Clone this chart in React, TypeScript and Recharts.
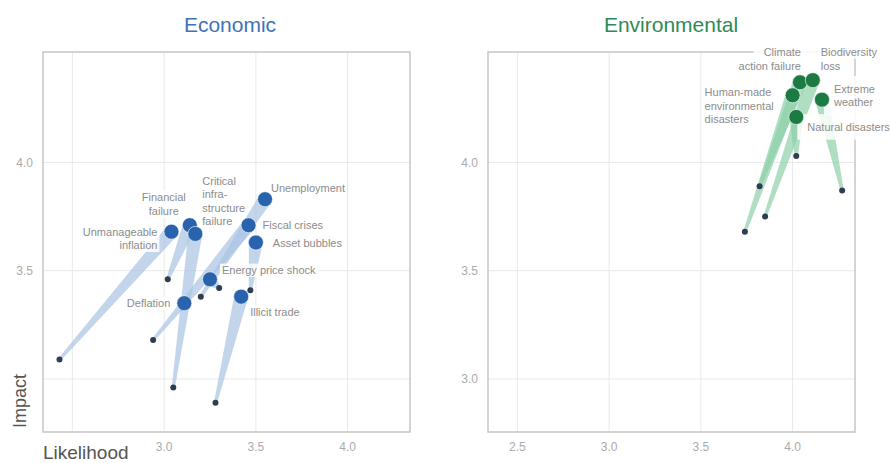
import { ScatterChart, Scatter, XAxis, YAxis, CartesianGrid, ReferenceArea } from 'recharts'

// Economic risks: current position and previous position
const econNames = [
  'Unmanageable inflation', 'Financial failure', 'Critical infrastructure failure', 'Unemployment',
  'Fiscal crises', 'Asset bubbles', 'Energy price shock', 'Deflation', 'Illicit trade',
]
const econLikelihood = [3.04, 3.14, 3.17, 3.55, 3.46, 3.5, 3.25, 3.11, 3.42]
const econImpact = [3.68, 3.71, 3.67, 3.83, 3.71, 3.63, 3.46, 3.35, 3.38]
const econPrevLikelihood = [2.43, 3.02, 3.05, 3.2, 2.94, 3.47, 3.3, 3.1, 3.28]
const econPrevImpact = [3.09, 3.46, 2.96, 3.38, 3.18, 3.41, 3.42, 3.33, 2.89]
const econLabels = [
  ['Unmanageable', 'inflation'], ['Financial', 'failure'], ['Critical', 'infra-', 'structure', 'failure'],
  ['Unemployment'], ['Fiscal crises'], ['Asset bubbles'], ['Energy price shock'], ['Deflation'], ['Illicit trade'],
]

// Environmental risks
const envNames = ['Climate action failure', 'Biodiversity loss', 'Human-made environmental disasters', 'Extreme weather', 'Natural disasters']
const envLikelihood = [4.04, 4.11, 4.0, 4.16, 4.02]
const envImpact = [4.37, 4.38, 4.31, 4.29, 4.21]
const envPrevLikelihood = [3.82, 3.85, 3.74, 4.27, 4.02]
const envPrevImpact = [3.89, 3.75, 3.68, 3.87, 4.03]
const envLabels = [['Climate', 'action failure'], ['Biodiversity', 'loss'], ['Human-made', 'environmental', 'disasters'], ['Extreme', 'weather'], ['Natural disasters']]

const xTicks = [2.5, 3.0, 3.5, 4.0]
const yTicks = [3.0, 3.5, 4.0]
const xDomain: [number, number] = [2.34, 4.34]
const yDomain: [number, number] = [2.755, 4.51]

// label placement relative to the dot: [dx, dy, anchor, padX, padY]
type Placement = [number, number, string, number, number]
const econPlacement: Placement[] = [
  [-14, 0, 'end', 2, 0], [-26, -28, 'middle', 2, 0], [7, -53, 'start', 2, 0], [6, -11, 'start', 2, 0],
  [14, 0, 'start', 2, 0], [17, 0, 'start', 2, 0], [12, -9, 'start', 2, 0], [-14, 0, 'end', 2, 0], [9, 15, 'start', 2, 0],
]
const envPlacement: Placement[] = [
  [1, -30, 'end', 10, 6], [8, -28, 'start', 10, 6], [-88, -3, 'start', 2, 0], [12, -11, 'start', 10, 6], [11, 10, 'start', 10, 6],
]

const FONT = '"Liberation Sans", Arial, sans-serif'

let measureCtx: CanvasRenderingContext2D | null = null
function textWidth(s: string, fs: number) {
  if (!measureCtx) measureCtx = document.createElement('canvas').getContext('2d')
  if (!measureCtx) return s.length * fs * 0.5
  measureCtx.font = `${fs}px ${FONT}`
  return measureCtx.measureText(s).width
}

function taper(color: string) {
  return (props: any) => {
    const pts = props.points
    if (!pts || pts.length < 2) return <g />
    const [a, b] = pts
    const dx = b.x - a.x
    const dy = b.y - a.y
    const len = Math.hypot(dx, dy) || 1
    const nx = -dy / len
    const ny = dx / len
    const w0 = 1.6
    const w1 = 7
    const d = `M${a.x + nx * w0},${a.y + ny * w0} L${b.x + nx * w1},${b.y + ny * w1} L${b.x - nx * w1},${b.y - ny * w1} L${a.x - nx * w0},${a.y - ny * w0} Z`
    return <path d={d} fill={color} fillOpacity={0.7} stroke="none" />
  }
}

function tickRenderer(hide: number[], axis: 'x' | 'y') {
  return (props: any) => {
    const v = props.payload.value
    if (hide.includes(v)) return <g />
    return (
      <text x={props.x} y={props.y} textAnchor={props.textAnchor} dy={axis === 'x' ? '0.71em' : '0.355em'}
        fill="#ababab" fontSize={12} fontFamily={FONT}>{v.toFixed(1)}</text>
    )
  }
}

interface PanelProps {
  dotColor: string
  tailColor: string
  names: string[]
  likelihood: number[]
  impact: number[]
  prevLikelihood: number[]
  prevImpact: number[]
  labels: string[][]
  placement: Placement[]
  width: number
  marginRight: number
  hideX: number[]
  hideY: number[]
}

function Panel(p: PanelProps) {
  const cur = p.names.map((name, i) => ({ name, x: p.likelihood[i], y: p.impact[i] }))
  const prev = p.names.map((name, i) => ({ name, x: p.prevLikelihood[i], y: p.prevImpact[i] }))

  const labelShape = (props: any) => {
    const name = props.payload?.name ?? props.name
    const i = p.names.indexOf(name)
    if (i < 0) return <g />
    const [dx, dy, anchor, padX, padY] = p.placement[i]
    const lines = p.labels[i]
    const fs = 11
    const lh = 13.5
    const x = props.cx + dx
    const y0 = props.cy + dy
    return (
      <g>
        {lines.map((l, k) => {
          const w = textWidth(l, fs)
          const left = anchor === 'end' ? x - w : anchor === 'middle' ? x - w / 2 : x
          const top = y0 + k * lh - lh / 2 - (k === 0 ? padY : 0)
          const h = lh + (k === 0 ? padY : 0) + (k === lines.length - 1 ? padY : 0)
          return <rect key={k} x={left - padX} y={top} width={w + padX * 2} height={h} fill="#fff" fillOpacity={0.85} />
        })}
        {lines.map((l, k) => (
          <text key={k} x={x} y={y0 + k * lh} textAnchor={anchor as any} dominantBaseline="central"
            fontSize={fs} fill="#8c8c8c" fontFamily={FONT}>{l}</text>
        ))}
      </g>
    )
  }

  return (
    <ScatterChart width={p.width} height={463} margin={{ top: 52, right: p.marginRight, bottom: 0, left: 0 }}
      style={{ overflow: 'visible' }}>
      <CartesianGrid stroke="#e9e9e9" />
      <XAxis type="number" dataKey="x" domain={xDomain} ticks={xTicks}
        axisLine={false} tickLine={false} height={31} tickMargin={4} tick={tickRenderer(p.hideX, 'x')} />
      <YAxis type="number" dataKey="y" domain={yDomain} ticks={yTicks}
        axisLine={false} tickLine={false} width={43} tickMargin={4} tick={tickRenderer(p.hideY, 'y')} />
      <ReferenceArea x1={xDomain[0]} x2={xDomain[1]} y1={yDomain[0]} y2={yDomain[1]}
        fill="none" stroke="#c9c9c9" strokeWidth={1.5} ifOverflow="visible" />
      {p.names.map((name, i) => (
        <Scatter key={name} data={[prev[i], cur[i]]} line={taper(p.tailColor)} shape={() => <g />}
          isAnimationActive={false} />
      ))}
      <Scatter data={prev} isAnimationActive={false}
        shape={(props: any) => <circle cx={props.cx} cy={props.cy} r={3} fill="#2f3d52" />} />
      <Scatter data={cur} isAnimationActive={false} shape={labelShape} />
      <Scatter data={cur} isAnimationActive={false}
        shape={(props: any) => (
          <circle cx={props.cx} cy={props.cy} r={7.5} fill={p.dotColor} stroke="#ffffff" strokeOpacity={0.6} strokeWidth={1} />
        )} />
    </ScatterChart>
  )
}

export default function App() {
  return (
    <div style={{ position: 'absolute', left: 0, top: 0, width: 891, height: 463, background: '#fff', overflow: 'hidden', fontFamily: FONT }}>
      <div style={{ position: 'absolute', left: 0, top: 0 }}>
        <Panel dotColor="#2a63ad" tailColor="#a9c3e3"
          names={econNames} likelihood={econLikelihood} impact={econImpact}
          prevLikelihood={econPrevLikelihood} prevImpact={econPrevImpact}
          labels={econLabels} placement={econPlacement} width={445} marginRight={35}
          hideX={[2.5]} hideY={[3.0]} />
      </div>
      <div style={{ position: 'absolute', left: 445, top: 0 }}>
        <Panel dotColor="#1c7a43" tailColor="#8ed0a8"
          names={envNames} likelihood={envLikelihood} impact={envImpact}
          prevLikelihood={envPrevLikelihood} prevImpact={envPrevImpact}
          labels={envLabels} placement={envPlacement} width={446} marginRight={36}
          hideX={[]} hideY={[]} />
      </div>
      <div style={{ position: 'absolute', left: 170, width: 120, top: 12, textAlign: 'center', fontSize: 21, color: '#3f73b5', lineHeight: '26px' }}>
        Economic
      </div>
      <div style={{ position: 'absolute', left: 581, width: 180, top: 12, textAlign: 'center', fontSize: 21, color: '#2f8a55', lineHeight: '26px' }}>
        Environmental
      </div>
      <div style={{ position: 'absolute', left: 20, top: 401, transform: 'translate(-50%, -50%) rotate(-90deg)', fontSize: 18, color: '#555', whiteSpace: 'nowrap' }}>
        Impact
      </div>
      <div style={{ position: 'absolute', left: 43, top: 442, fontSize: 19, color: '#555', lineHeight: '21px' }}>
        Likelihood
      </div>
    </div>
  )
}
